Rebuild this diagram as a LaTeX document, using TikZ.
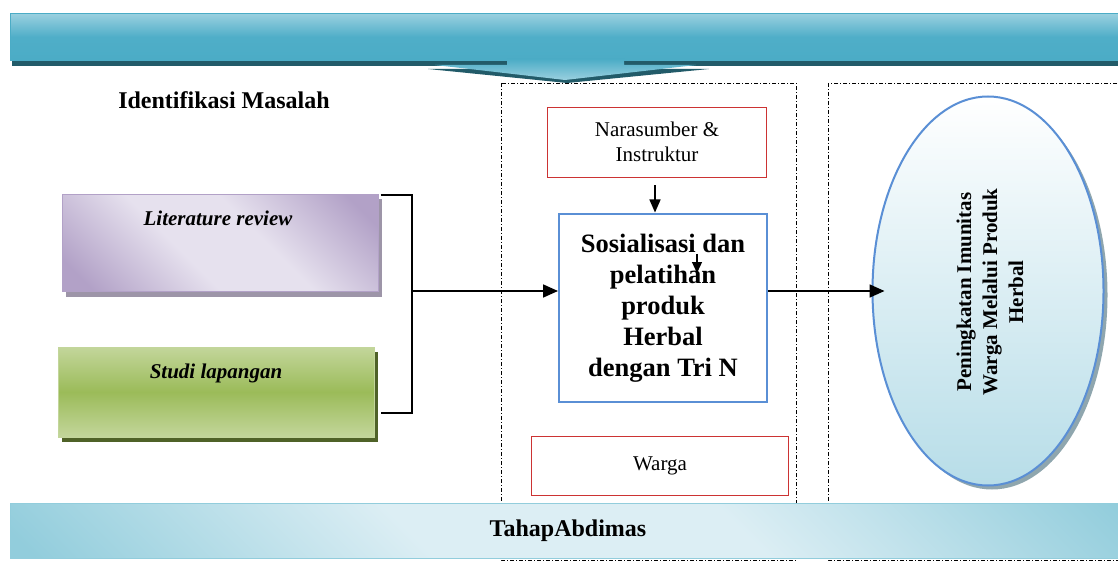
\documentclass[tikz,border=0pt]{standalone}
\usepackage{fontspec}
\setmainfont{Liberation Serif}
\usetikzlibrary{arrows.meta,shapes.geometric,shadows,calc}
\definecolor{banLight}{HTML}{9AD0DF}
\definecolor{banMid}{HTML}{4FAEC8}
\definecolor{banDark}{HTML}{4BACC6}
\definecolor{banShadow}{HTML}{225B69}
\definecolor{botLight}{HTML}{DCEEF4}
\definecolor{botDark}{HTML}{92CDDC}
\definecolor{purDark}{HTML}{B2A1C7}
\definecolor{purLight}{HTML}{E6E1EE}
\definecolor{purShadow}{HTML}{9D95A8}
\definecolor{grnDark}{HTML}{9BBB59}
\definecolor{grnLight}{HTML}{C3D69B}
\definecolor{grnShadow}{HTML}{4F6228}
\definecolor{boxRed}{HTML}{CC3333}
\definecolor{boxBlue}{HTML}{5A8FD5}
\definecolor{ellBottom}{HTML}{B7DDE8}
\definecolor{ellShadow}{HTML}{8FA6AE}
\pgfdeclareverticalshading{purband}{100bp}{color(0bp)=(purDark); color(20bp)=(purDark); color(42bp)=(purLight); color(58bp)=(purLight); color(80bp)=(purDark); color(100bp)=(purDark)}
\pgfdeclareverticalshading{botband}{100bp}{color(0bp)=(botDark); color(16bp)=(botDark); color(40bp)=(botLight); color(60bp)=(botLight); color(84bp)=(botDark); color(100bp)=(botDark)}
\begin{document}
\begin{tikzpicture}[x=1pt,y=-1pt,
  topbar/.style={rectangle, draw=banDark, line width=1pt, inner sep=0pt,
    top color=banLight, bottom color=banDark, middle color=banMid,
    minimum width=1130pt, minimum height=47pt, anchor=north west},
  botbar/.style={rectangle, draw=botDark, line width=1pt, inner sep=0pt,
    shading=botband, shading angle=-45,
    minimum width=1130pt, minimum height=55pt, anchor=north west},
  litbox/.style={rectangle, draw=purDark, line width=1pt, inner sep=0pt,
    shading=purband, shading angle=-45,
    minimum width=316pt, minimum height=97pt,
    drop shadow={shadow xshift=4pt, shadow yshift=-5pt, fill=purShadow, opacity=1}},
  studibox/.style={rectangle, draw=grnLight, line width=1pt, inner sep=0pt,
    top color=grnLight, bottom color=grnLight, middle color=grnDark,
    minimum width=316pt, minimum height=90pt,
    drop shadow={shadow xshift=4pt, shadow yshift=-5pt, fill=grnShadow, opacity=1}},
  redbox/.style={rectangle, draw=boxRed, line width=0.9pt, inner sep=0pt, align=center,
    font=\fontsize{21}{25}\selectfont},
  sosbox/.style={rectangle, draw=boxBlue, line width=2pt, inner sep=0pt, align=center,
    minimum width=208pt, minimum height=187pt,
    font=\fontsize{26.5}{31}\selectfont\bfseries},
  outcome/.style={ellipse, draw=boxBlue, line width=2pt, inner sep=0pt,
    top color=white, bottom color=ellBottom,
    minimum width=231pt, minimum height=389pt,
    drop shadow={shadow xshift=4pt, shadow yshift=-4pt, fill=ellShadow, opacity=1}},
  stage/.style={draw=black, line width=0.6pt, dash pattern=on 4pt off 2pt on 1pt off 2pt},
  conn/.style={line width=1.8pt, -{Triangle[length=15pt,width=13pt]}},
  smallconn/.style={line width=1.5pt, -{Triangle[length=13pt,width=11pt]}},
  plain/.style={line width=1.6pt},
  title/.style={font=\fontsize{24}{28}\selectfont\bfseries},
  itlabel/.style={font=\fontsize{21}{25}\selectfont\bfseries\itshape},
  ]
\useasboundingbox (0,0) rectangle (1118,561);
\clip (0,0) rectangle (1118,561);
\fill[white] (0,0) rectangle (1118,561);

% stage frames
\draw[stage] (501,83) rectangle (796,560);
\draw[stage] (828,83) rectangle (1130,560);

% top banner with arrow
\fill[banShadow] (12,59) rectangle (1130,66);
\node[topbar] (top) at (10,13) {};
\fill[banShadow] (428,69) -- (709,69) -- (567,83) -- cycle;
\shade[top color=banDark, bottom color=banLight]
  (507,59) -- (624,59) -- (624,65) -- (696,65) -- (565,80) -- (435,65) -- (507,65) -- cycle;

% title
\node[title] (ident) at (224,100) {Identifikasi Masalah};

% left boxes
\node[litbox] (lit) at (220,243) {};
\node[itlabel] (littxt) at (218,218) {Literature review};
\node[studibox] (studi) at (216,392) {};
\node[itlabel] (studitxt) at (216,373) {Studi lapangan};

% middle
\node[redbox, minimum width=219pt, minimum height=70pt] (nara) at (657,142) {Narasumber \&\\Instruktur};
\node[sosbox] (sos) at (663,308) {Sosialisasi dan\\pelatihan\\produk\\Herbal\\dengan Tri N};
\node[redbox, minimum width=257pt, minimum height=59pt] (warga) at (660,466) {Warga};

% right
\node[outcome] (ell) at (988,291) {};
\node[rotate=90, align=center, font=\fontsize{21}{26}\selectfont\bfseries] (elltxt) at (990,292)
  {Peningkatan Imunitas\\Warga Melalui Produk\\Herbal};

% bottom banner
\node[botbar] (bot) at (10,503) {};
\node[title] (tahap) at (568,531) {TahapAbdimas};

% connectors
\coordinate (bt) at (412,195);
\coordinate (bb) at (412,413);
\coordinate (bm) at (412,291);
\coordinate (sb) at (381,413);
\draw[plain] ($(lit.north east)+(2,1)$) -- (bt) -- (bb) -- (sb);
\draw[conn] (bm) -- (sos.west |- bm);
\draw[conn] (sos.east |- bm) -- ($(ell.west)+(13,0)$);
\draw[smallconn] ($(nara.south)+(-2,8)$) -- ($(sos.north)+(-8,-1)$);
\coordinate (ia) at (697,254);
\coordinate (ib) at (697,273);
\draw[line width=1.3pt, -{Triangle[length=11pt,width=10pt]}] (ia) -- (ib);
\end{tikzpicture}
\end{document}
